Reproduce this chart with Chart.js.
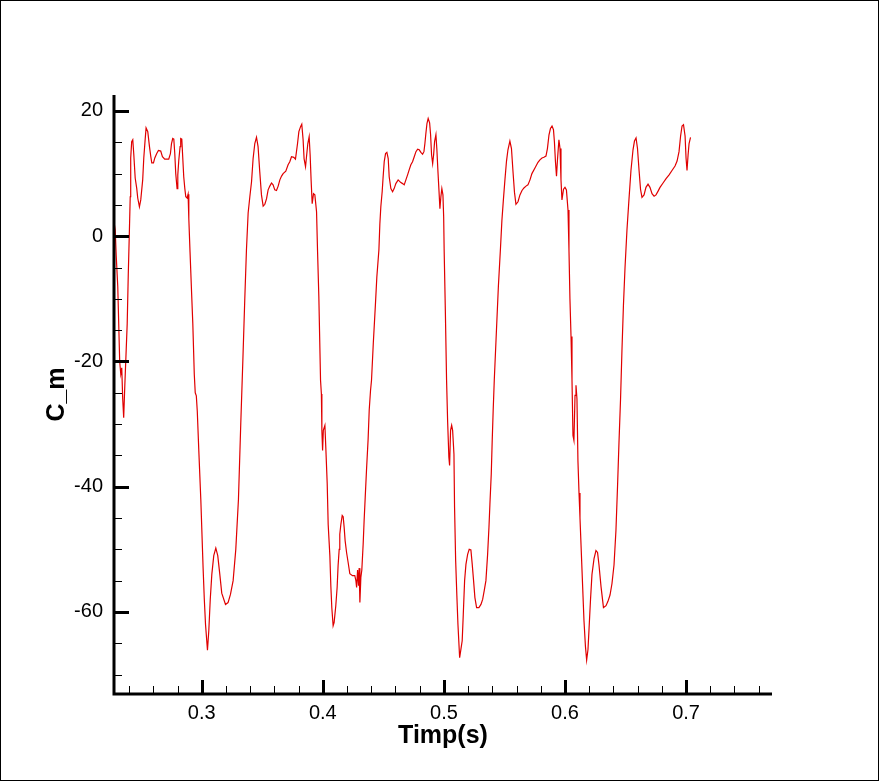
<!DOCTYPE html>
<html>
<head>
<meta charset="utf-8">
<script src="https://cdn.jsdelivr.net/npm/chart.js@4.4.1/dist/chart.umd.min.js"></script>
<style>
  html, body { margin: 0; padding: 0; background: #fff; }
  canvas { display: block; }
</style>
</head>
<body>
<canvas id="cm" width="879" height="781"></canvas>
<script>
// time (s)
const timp = [
  0.2277, 0.2285, 0.2293, 0.2306, 0.2322, 0.2331, 0.2339, 0.2347, 0.2355, 0.2364,
  0.2372, 0.2384, 0.2393, 0.2401, 0.2409, 0.2413, 0.2421, 0.2430, 0.2438, 0.2450,
  0.2463, 0.2471, 0.2485, 0.2496, 0.2512, 0.2521, 0.2531, 0.2540, 0.2554, 0.2568,
  0.2579, 0.2587, 0.2601, 0.2612, 0.2628, 0.2642, 0.2661, 0.2675, 0.2694, 0.2727,
  0.2741, 0.2750, 0.2760, 0.2769, 0.2777, 0.2785, 0.2796, 0.2802, 0.2810, 0.2821,
  0.2826, 0.2835, 0.2843, 0.2851, 0.2860, 0.2868, 0.2879, 0.2887, 0.2893, 0.2903,
  0.2915, 0.2926, 0.2938, 0.2946, 0.2955, 0.2963, 0.2975, 0.2992, 0.3011, 0.3021,
  0.3031, 0.3047, 0.3058, 0.3070, 0.3083, 0.3099, 0.3116, 0.3132, 0.3149, 0.3165,
  0.3196, 0.3217, 0.3237, 0.3259, 0.3281, 0.3303, 0.3322, 0.3339, 0.3355, 0.3369,
  0.3383, 0.3397, 0.3411, 0.3424, 0.3438, 0.3452, 0.3465, 0.3479, 0.3493, 0.3507,
  0.3521, 0.3535, 0.3548, 0.3562, 0.3576, 0.3589, 0.3603, 0.3617, 0.3631, 0.3645,
  0.3659, 0.3672, 0.3694, 0.3713, 0.3727, 0.3741, 0.3760, 0.3774, 0.3791, 0.3802,
  0.3816, 0.3826, 0.3837, 0.3845, 0.3857, 0.3865, 0.3876, 0.3887, 0.3895, 0.3903,
  0.3912, 0.3923, 0.3934, 0.3948, 0.3956, 0.3967, 0.3981, 0.3988, 0.3992, 0.3998,
  0.4004, 0.4017, 0.4025, 0.4036, 0.4044, 0.4058, 0.4066, 0.4074, 0.4085, 0.4093,
  0.4107, 0.4118, 0.4126, 0.4135, 0.4140, 0.4149, 0.4160, 0.4168, 0.4176, 0.4184,
  0.4196, 0.4209, 0.4223, 0.4245, 0.4264, 0.4273, 0.4279, 0.4287, 0.4295, 0.4300,
  0.4306, 0.4314, 0.4322, 0.4333, 0.4341, 0.4350, 0.4361, 0.4374, 0.4383, 0.4394,
  0.4402, 0.4417, 0.4434, 0.4446, 0.4463, 0.4471, 0.4479, 0.4490, 0.4498, 0.4507,
  0.4518, 0.4529, 0.4540, 0.4548, 0.4562, 0.4576, 0.4589, 0.4603, 0.4622, 0.4642,
  0.4659, 0.4672, 0.4686, 0.4700, 0.4713, 0.4727, 0.4741, 0.4755, 0.4769, 0.4783,
  0.4796, 0.4810, 0.4824, 0.4835, 0.4843, 0.4851, 0.4860, 0.4870, 0.4882, 0.4890,
  0.4898, 0.4907, 0.4915, 0.4923, 0.4934, 0.4942, 0.4950, 0.4959, 0.4967, 0.4975,
  0.4983, 0.4992, 0.4998, 0.5002, 0.5012, 0.5022, 0.5031, 0.5041, 0.5047, 0.5055,
  0.5064, 0.5072, 0.5083, 0.5088, 0.5097, 0.5107, 0.5116, 0.5130, 0.5140, 0.5151,
  0.5160, 0.5171, 0.5182, 0.5196, 0.5209, 0.5223, 0.5234, 0.5245, 0.5256, 0.5270,
  0.5289, 0.5306, 0.5320, 0.5333, 0.5347, 0.5361, 0.5372, 0.5380, 0.5391, 0.5399,
  0.5407, 0.5416, 0.5434, 0.5450, 0.5467, 0.5479, 0.5492, 0.5504, 0.5517, 0.5529,
  0.5545, 0.5558, 0.5570, 0.5583, 0.5595, 0.5612, 0.5628, 0.5645, 0.5661, 0.5678,
  0.5694, 0.5711, 0.5727, 0.5752, 0.5777, 0.5793, 0.5810, 0.5826, 0.5843, 0.5855,
  0.5868, 0.5880, 0.5893, 0.5905, 0.5913, 0.5921, 0.5930, 0.5938, 0.5950, 0.5959,
  0.5967, 0.5975, 0.5988, 0.6000, 0.6012, 0.6025, 0.6033, 0.6041, 0.6050, 0.6058,
  0.6066, 0.6074, 0.6083, 0.6091, 0.6099, 0.6107, 0.6116, 0.6124, 0.6140, 0.6157,
  0.6169, 0.6179, 0.6190, 0.6198, 0.6211, 0.6223, 0.6240, 0.6256, 0.6269, 0.6281,
  0.6298, 0.6318, 0.6339, 0.6355, 0.6372, 0.6388, 0.6405, 0.6421, 0.6434, 0.6446,
  0.6459, 0.6471, 0.6483, 0.6496, 0.6512, 0.6529, 0.6545, 0.6562, 0.6574, 0.6587,
  0.6599, 0.6612, 0.6624, 0.6636, 0.6653, 0.6669, 0.6686, 0.6702, 0.6719, 0.6736,
  0.6752, 0.6769, 0.6785, 0.6810, 0.6835, 0.6860, 0.6884, 0.6909, 0.6926, 0.6942,
  0.6955, 0.6967, 0.6979, 0.6992, 0.7000, 0.7008, 0.7017, 0.7025, 0.7037
];

// moment coefficient C_m
const cm = [
  2, 1, -3, -8, -20, -22, -21, -26, -29, -24,
  -20, -14, -6, 0, 6.3, 12.5, 15.1, 15.4, 13.2, 9.3,
  7.6, 6.1, 4.7, 5.8, 9, 12.5, 15.1, 17.3, 16.7, 14.3,
  12.7, 11.7, 11.7, 12.5, 13.2, 13.7, 13.6, 12.7, 12.3, 12.3,
  13.2, 14.8, 15.6, 15.5, 13.2, 10, 7.6, 9.8, 12.1, 14.3,
  15.6, 15.5, 12.5, 9.5, 7.6, 6.3, 6.1, 6.7, 2.8, -2.5,
  -8.6, -14, -22, -25, -25.5, -28, -34, -42, -53, -58,
  -62, -66.1, -63, -58, -54, -51, -49.8, -51, -54, -57,
  -58.8, -58.5, -57.2, -55, -50, -42, -30, -20, -10.2, -2.2,
  3.7, 6.3, 8.7, 12.4, 14.8, 15.8, 14.3, 10.3, 6.6, 4.8,
  5.1, 6, 7.4, 8, 8.5, 8.2, 7.4, 7.3, 8, 9,
  9.6, 10, 10.4, 11.4, 11.9, 12.7, 12.6, 12.3, 14.8, 16.7,
  17.5, 17.9, 15.4, 12.4, 11.1, 12.7, 14.8, 15.9, 13, 9,
  5.2, 6.8, 6.6, 3.9, -2.2, -9.7, -23, -25.2, -31, -34.2,
  -31, -30.2, -34, -39.5, -46, -51, -55.8, -59.3, -62.2, -61.7,
  -59, -56.1, -52.6, -50, -47.6, -46, -44.6, -44.8, -46.5, -48.6,
  -50.5, -52.1, -53.9, -54.2, -54.2, -55, -56.1, -53.3, -55.8, -53,
  -58.5, -54.5, -53.3, -49.2, -45.4, -41.7, -37.2, -32.4, -27.8, -24.6,
  -23, -17, -11, -6.5, -2.2, 2, 4.7, 7.1, 9.5, 11.9,
  13.2, 13.4, 12.4, 9.5, 7.6, 7.1, 7.6, 8.4, 9, 8.6,
  8.4, 8.2, 9, 9.8, 10.6, 11.4, 11.9, 12.7, 13.5, 13.9,
  13.8, 13.4, 13.1, 13.5, 14.8, 16.4, 18, 18.8, 18.1, 16.2,
  13, 11.6, 13, 15.1, 16.2, 13.8, 10.6, 7.4, 4.4, 6.3,
  7.6, 6.6, 3.1, -2.2, -12, -23, -29.7, -35.3, -36.6, -31,
  -30.2, -31, -34.8, -43.3, -51.8, -57.4, -62, -67.3, -66, -64.6,
  -60.4, -55, -52.4, -50.8, -50, -50.1, -52.4, -55, -57.7, -59.3,
  -59.3, -58.8, -58, -56.6, -55, -50.8, -46.5, -42.8, -38, -32.6,
  -27.8, -23, -15, -8, -2, 2.5, 6, 9, 12, 13.8,
  15.2, 14, 10.5, 7, 5.1, 5.5, 6.6, 7.3, 7.7, 8,
  8.2, 9, 10, 10.9, 11.8, 12.2, 12.5, 12.6, 12.8, 14,
  16.2, 17.2, 17.6, 17, 15, 12, 9.6, 12.2, 15.4, 14,
  9, 5.8, 7.5, 7.8, 7.4, 4.2, -2.2, -10, -16, -23,
  -31.8, -32.6, -25.4, -23.8, -26, -35.8, -41, -45, -53, -61.4,
  -65.5, -67.7, -66, -63, -58, -54, -51.5, -50.2, -50.5, -52.5,
  -56, -59.3, -59, -58.3, -57.3, -55.5, -52.5, -47, -40, -33,
  -26, -18, -11, -5, 1, 6, 10.5, 13.8, 15.2, 15.7,
  14, 10.5, 7.5, 6.2, 6.6, 7.8, 8.3, 7.8, 6.8, 6.4,
  6.6, 7.2, 7.8, 8.5, 9.2, 9.8, 10.5, 11.2, 12, 13.5,
  16, 17.6, 17.8, 16, 12.5, 10.5, 13, 14.8, 15.8
];

const xTicks = [0.3, 0.4, 0.5, 0.6, 0.7];
const yTicks = [-60, -40, -20, 0, 20];

const points = timp.map((t, i) => ({ x: t, y: cm[i] }));

// Tecplot style axes: thick lines, ticks pointing inwards
const tecAxes = {
  id: 'tecAxes',
  afterDraw(chart) {
    const { ctx, chartArea: a, scales: { x, y } } = chart;
    ctx.save();
    ctx.strokeStyle = '#000';
    ctx.lineWidth = 1;
    ctx.strokeRect(0.5, 0.5, chart.width - 1, chart.height - 1);

    ctx.lineWidth = 3;
    ctx.beginPath();
    ctx.moveTo(a.left, a.top);
    ctx.lineTo(a.left, a.bottom);
    ctx.lineTo(a.right, a.bottom);
    ctx.stroke();

    // major ticks
    ctx.lineWidth = 3;
    ctx.beginPath();
    xTicks.forEach(v => {
      const px = Math.round(x.getPixelForValue(v)) + 0.5;
      ctx.moveTo(px, a.bottom);
      ctx.lineTo(px, a.bottom - 14);
    });
    yTicks.forEach(v => {
      const py = Math.round(y.getPixelForValue(v)) + 0.5;
      ctx.moveTo(a.left, py);
      ctx.lineTo(a.left + 15, py);
    });
    ctx.stroke();

    // minor ticks
    ctx.lineWidth = 1;
    ctx.beginPath();
    for (let k = 12; k <= 38; k++) {
      if (k % 5 === 0) continue;
      const px = Math.round(x.getPixelForValue(k * 0.02)) + 0.5;
      ctx.moveTo(px, a.bottom);
      ctx.lineTo(px, a.bottom - 8);
    }
    for (let v = -70; v <= 20; v += 5) {
      if (v % 20 === 0) continue;
      const py = Math.round(y.getPixelForValue(v)) + 0.5;
      ctx.moveTo(a.left, py);
      ctx.lineTo(a.left + 8, py);
    }
    ctx.stroke();
    ctx.restore();
  }
};

new Chart(document.getElementById('cm'), {
  type: 'scatter',
  data: {
    datasets: [{
      data: points,
      showLine: true,
      borderColor: '#e00000',
      borderWidth: 1.2,
      pointRadius: 0,
      tension: 0
    }]
  },
  options: {
    responsive: false,
    animation: false,
    layout: { padding: { left: 0, right: 107, top: 95, bottom: 0 } },
    plugins: { legend: { display: false }, tooltip: { enabled: false } },
    scales: {
      x: {
        type: 'linear',
        min: 0.2275,
        max: 0.771,
        grid: { display: false, drawTicks: false },
        border: { display: false },
        afterBuildTicks: s => { s.ticks = xTicks.map(v => ({ value: v })); },
        afterFit: s => { s.height = 87; },
        ticks: {
          padding: 7,
          color: '#000',
          maxRotation: 0,
          font: { family: 'Liberation Sans, Arial, sans-serif', size: 20 },
          callback: v => String(v)
        },
        title: {
          display: true,
          text: 'Timp(s)',
          color: '#000',
          padding: { top: 0, bottom: 30 },
          font: { family: 'Liberation Sans, Arial, sans-serif', size: 25, weight: 'bold' }
        }
      },
      y: {
        type: 'linear',
        min: -73.1,
        max: 22.55,
        grid: { display: false, drawTicks: false },
        border: { display: false },
        afterBuildTicks: s => { s.ticks = yTicks.map(v => ({ value: v })); },
        afterFit: s => { s.width = 114; },
        ticks: {
          padding: 11,
          color: '#000',
          font: { family: 'Liberation Sans, Arial, sans-serif', size: 20 }
        },
        title: {
          display: true,
          text: 'C_m',
          color: '#000',
          padding: { top: 42, bottom: 0 },
          font: { family: 'Liberation Sans, Arial, sans-serif', size: 25, weight: 'bold' }
        }
      }
    }
  },
  plugins: [tecAxes]
});
</script>
</body>
</html>
